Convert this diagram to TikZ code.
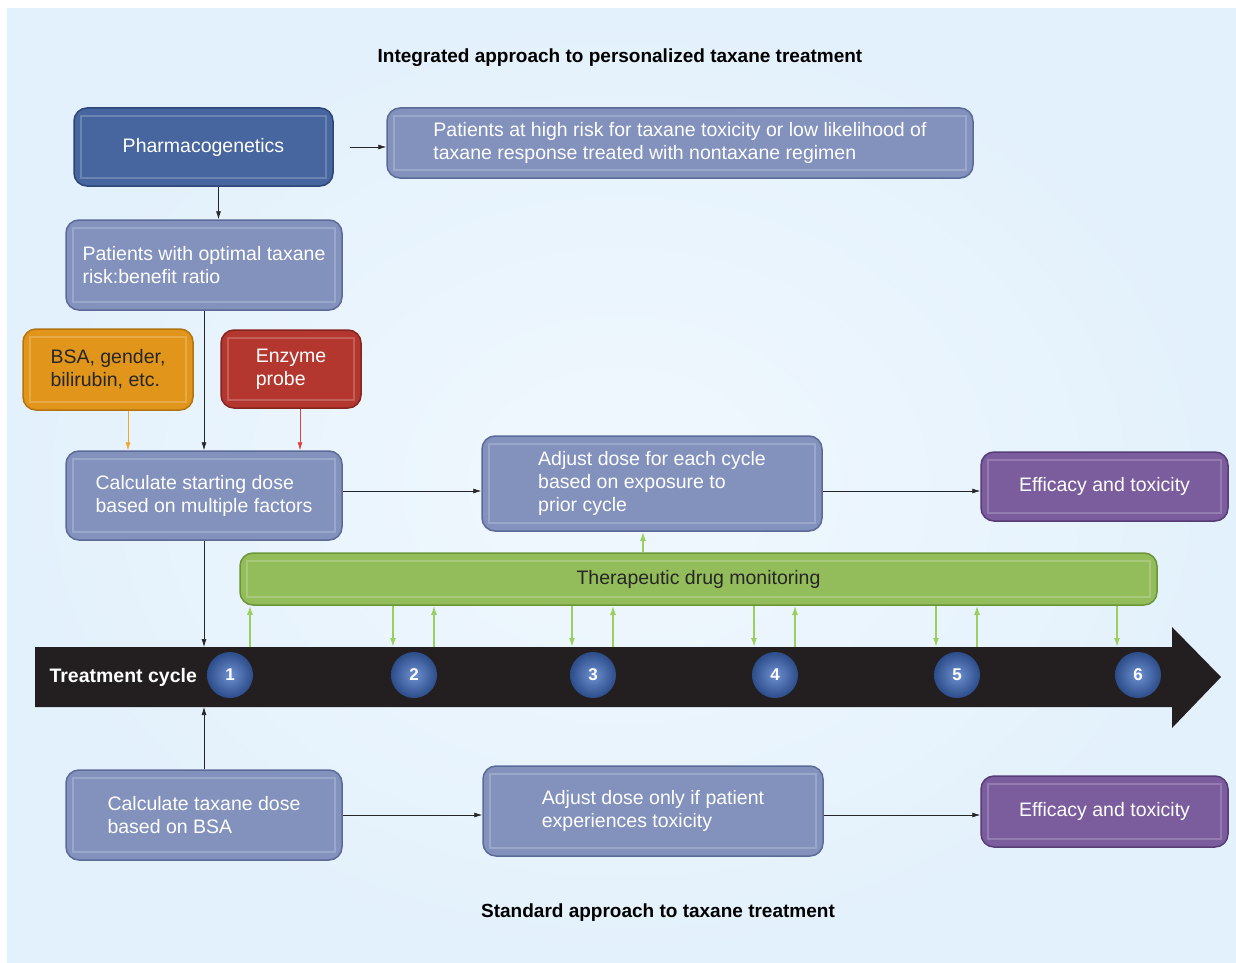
\documentclass[tikz,border=0pt]{standalone}
\usepackage{fontspec}
\setmainfont{Liberation Sans}
\usetikzlibrary{arrows.meta}

\definecolor{bgin}{HTML}{F1F8FE}
\definecolor{bgout}{HTML}{E3F1FC}
\definecolor{pgfill}{HTML}{47669F}
\definecolor{pgline}{HTML}{2E4677}
\definecolor{slfill}{HTML}{8391BD}
\definecolor{slline}{HTML}{5C6A98}
\definecolor{orfill}{HTML}{E1951B}
\definecolor{orline}{HTML}{B37410}
\definecolor{rdfill}{HTML}{B3372F}
\definecolor{rdline}{HTML}{85241E}
\definecolor{pufill}{HTML}{7B5C9D}
\definecolor{puline}{HTML}{573C78}
\definecolor{grfill}{HTML}{93BC5B}
\definecolor{grline}{HTML}{6A9539}
\definecolor{grarrow}{HTML}{9BCF5E}
\definecolor{orarrow}{HTML}{F4A52B}
\definecolor{rdarrow}{HTML}{D8453B}
\definecolor{ballin}{HTML}{6F91CF}
\definecolor{ballout}{HTML}{2C4C8A}
\definecolor{barblack}{HTML}{231F20}

\begin{document}
\begin{tikzpicture}[x=1pt, y=-1pt,
	stage/.style 2 args = {draw=#2, fill=#1, line width=1.5pt, rounded corners=13pt,
		text=white, align=left, font=\fontsize{19.5}{23}\selectfont,
		path picture={\draw[sharp corners, white, opacity=.2, line width=1.2pt]
			([shift={(7pt,-8pt)}]path picture bounding box.north west) rectangle
			([shift={(-7pt,8pt)}]path picture bounding box.south east);}},
	cyclenum/.style = {circle, shading=radial, inner color=ballin, outer color=ballout,
		minimum size=46, inner sep=0pt, text=white, font=\bfseries\fontsize{17}{20}\selectfont},
	heading/.style = {font=\bfseries\fontsize{19}{22}\selectfont},
	arr/.style = {-{Latex[length=8pt,width=5pt]}, line width=0.7pt, black!85},
	garr/.style = {-{Latex[length=9pt,width=6pt]}, line width=1.5pt, grarrow}]
	
	\useasboundingbox (0,0) rectangle (1236,963);
	\fill[white] (0,0) rectangle (1236,963);
	\shade[inner color=bgin, outer color=bgout] (7,9) rectangle (1236,962);
	
	% integrated approach
	\node[heading] (toptitle) at (620,58) {Integrated approach to personalized taxane treatment};
	\node[stage={pgfill}{pgline}, minimum width=259, minimum height=78] (pharma) at (203.5,147) {Pharmacogenetics};
	\node[stage={slfill}{slline}, minimum width=586, minimum height=70] (highrisk) at (680,143) {Patients at high risk for taxane toxicity or low likelihood of\\taxane response treated with nontaxane regimen};
	\node[stage={slfill}{slline}, minimum width=276, minimum height=90] (optimal) at (204,265) {Patients with optimal taxane\\risk:benefit ratio};
	\node[stage={orfill}{orline}, text=black!85, minimum width=170, minimum height=81] (bsa) at (108,369.5) {BSA, gender,\\bilirubin, etc.};
	\node[stage={rdfill}{rdline}, minimum width=140, minimum height=78] (enzyme) at (291,369) {Enzyme\\probe};
	\node[stage={slfill}{slline}, minimum width=276, minimum height=89] (startdose) at (204,495.5) {Calculate starting dose\\based on multiple factors};
	\node[stage={slfill}{slline}, minimum width=340, minimum height=95] (adjcycle) at (652,483.5) {Adjust dose for each cycle\\based on exposure to\\prior cycle};
	\node[stage={pufill}{puline}, minimum width=247, minimum height=69] (effint) at (1104.5,486.5) {Efficacy and toxicity};
	\node[stage={grfill}{grline}, text=black!85, minimum width=917, minimum height=52] (tdm) at (698.5,579) {Therapeutic drug monitoring};
	
	\draw[arr, shorten <=16pt] (pharma.east) -- (pharma.east -| highrisk.west);
	\draw[arr] ([xshift=15pt]pharma.south) -- ([xshift=15pt]pharma.south |- optimal.north);
	\draw[arr] (optimal) -- (startdose);
	\draw[arr, orarrow] ([xshift=20pt]bsa.south) -- ([xshift=20pt]bsa.south |- startdose.north);
	\draw[arr, rdarrow] ([xshift=9pt]enzyme.south) -- ([xshift=9pt]enzyme.south |- startdose.north);
	\draw[arr] ([yshift=4.5pt]startdose.east) -- ([yshift=4.5pt]startdose.east -| adjcycle.west);
	\draw[arr] ([yshift=-7.5pt]adjcycle.east) -- ([yshift=-7.5pt]adjcycle.east -| effint.west);
	\draw[garr] ([xshift=-9pt]adjcycle.south |- tdm.north) -- ([xshift=-9pt]adjcycle.south);
	
	% treatment cycle
	\fill[barblack] (35,647) -- (1172,647) -- (1172,627) -- (1221,677) -- (1172,728) -- (1172,707) -- (35,707) -- cycle;
	\coordinate (bartop) at (35,647);
	\coordinate (barbot) at (35,707);
	\node[anchor=west, text=white, font=\bfseries\fontsize{19.5}{23}\selectfont] (tclabel) at (46,677) {Treatment cycle};
	\foreach \x [count=\i] in {230,414,593,775,957,1138}
		\node[cyclenum] (c\i) at (\x,675) {\i};
	
	\foreach \i in {1,...,5}
		\draw[garr] ([xshift=20pt]c\i.center |- bartop) -- ([xshift=20pt]c\i.center |- tdm.south);
	\foreach \i in {2,...,6}
		\draw[garr] ([xshift=-21pt]c\i.center |- tdm.south) -- ([xshift=-21pt]c\i.center |- bartop);
	\draw[arr] (startdose.south) -- (startdose.south |- bartop);
	
	% standard approach
	\node[stage={slfill}{slline}, minimum width=276, minimum height=90] (bsadose) at (204,815) {Calculate taxane dose\\based on BSA};
	\node[stage={slfill}{slline}, minimum width=340, minimum height=90] (adjtox) at (653,811) {Adjust dose only if patient\\experiences toxicity};
	\node[stage={pufill}{puline}, minimum width=247, minimum height=71] (effstd) at (1104.5,811.5) {Efficacy and toxicity};
	\node[heading] (bottitle) at (658,913) {Standard approach to taxane treatment};
	
	\draw[arr] (bsadose.north) -- (bsadose.north |- barbot);
	\draw[arr] (bsadose.east) -- (bsadose.east -| adjtox.west);
	\draw[arr] ([yshift=-4pt]adjtox.east) -- ([yshift=-4pt]adjtox.east -| effstd.west);
	
\end{tikzpicture}
\end{document}
